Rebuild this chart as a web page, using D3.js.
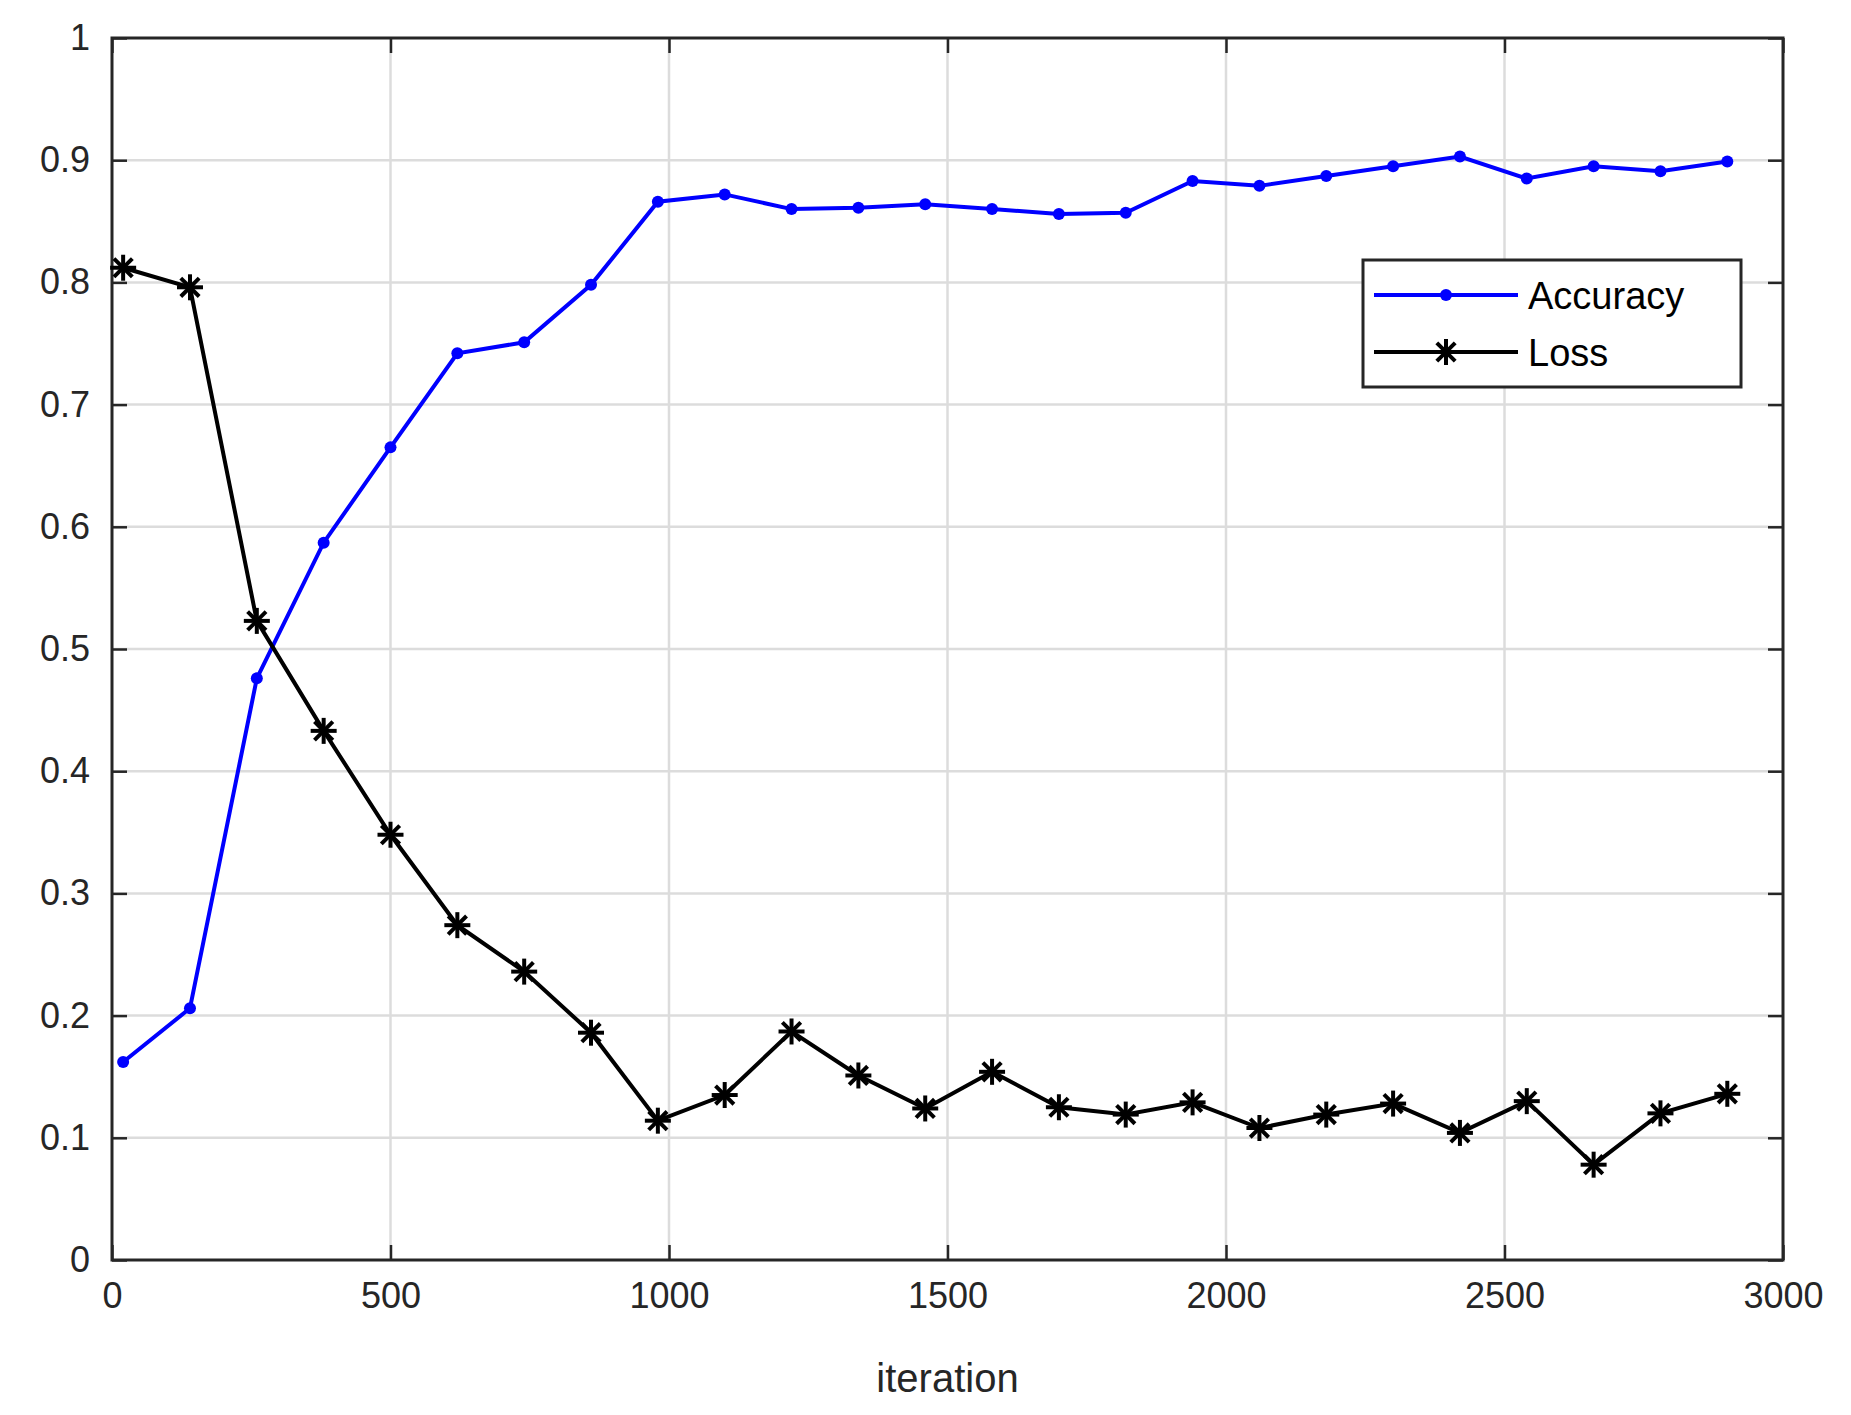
<!DOCTYPE html>
<html><head><meta charset="utf-8">
<script src="https://cdn.jsdelivr.net/npm/d3@7"></script>
<style>body{margin:0;background:#fff}</style>
</head><body>
<div id="chart"></div>
<script>
const iterations = d3.range(25).map(i => 20 + 120 * i)
const accuracy = [0.162,0.206,0.476,0.587,0.665,0.742,0.751,0.798,0.866,0.872,0.860,0.861,0.864,0.860,0.856,0.857,0.883,0.879,0.887,0.895,0.903,0.885,0.895,0.891,0.899]
const loss = [0.812,0.796,0.523,0.433,0.348,0.274,0.236,0.186,0.114,0.135,0.187,0.151,0.124,0.154,0.125,0.119,0.129,0.108,0.119,0.128,0.104,0.130,0.078,0.120,0.136]
const xTicks = [0,500,1000,1500,2000,2500,3000]
const yTicks = [0,0.1,0.2,0.3,0.4,0.5,0.6,0.7,0.8,0.9,1]

const width = 1851, height = 1415
const plotL = 112, plotR = 1783, plotT = 38, plotB = 1260
const axisColor = '#262626'
const font = '"Liberation Sans", Arial, sans-serif'

const svg = d3.select('#chart').append('svg').attr('width', width).attr('height', height)
  .style('font-family', font)

const x = d3.scaleLinear().domain([0, 3000]).range([plotL, plotR])
const y = d3.scaleLinear().domain([0, 1]).range([plotB, plotT])

// grid
svg.append('g').selectAll('line').data(xTicks.slice(1, -1)).join('line')
  .attr('x1', d => x(d)).attr('x2', d => x(d)).attr('y1', plotT).attr('y2', plotB)
  .attr('stroke', '#dcdcdc').attr('stroke-width', 2.5)
svg.append('g').selectAll('line').data(yTicks.slice(1, -1)).join('line')
  .attr('y1', d => y(d)).attr('y2', d => y(d)).attr('x1', plotL).attr('x2', plotR)
  .attr('stroke', '#dcdcdc').attr('stroke-width', 2.5)

// axes
const styleAxis = g => {
  g.select('.domain').remove()
  g.selectAll('.tick line').attr('stroke', axisColor).attr('stroke-width', 2.5)
  g.selectAll('.tick text').attr('fill', axisColor).style('font-size', '36px').style('font-family', font)
}
svg.append('g').attr('transform', `translate(0,${plotB})`)
  .call(d3.axisBottom(x).tickValues(xTicks).tickSize(-15).tickPadding(22).tickFormat(d3.format('d')))
  .call(styleAxis)
svg.append('g').attr('transform', `translate(${plotL},0)`)
  .call(d3.axisLeft(y).tickValues(yTicks).tickSize(-15).tickPadding(22).tickFormat(d => d === 0 || d === 1 ? d : d3.format('.1f')(d)))
  .call(styleAxis)
svg.append('g').attr('transform', `translate(0,${plotT})`)
  .call(d3.axisTop(x).tickValues(xTicks).tickSize(-15).tickFormat(''))
  .call(styleAxis)
svg.append('g').attr('transform', `translate(${plotR},0)`)
  .call(d3.axisRight(y).tickValues(yTicks).tickSize(-15).tickFormat(''))
  .call(styleAxis)
svg.append('rect').attr('x', plotL).attr('y', plotT).attr('width', plotR - plotL).attr('height', plotB - plotT)
  .attr('fill', 'none').attr('stroke', axisColor).attr('stroke-width', 3)

svg.append('text').attr('x', (plotL + plotR) / 2).attr('y', 1392).attr('text-anchor', 'middle')
  .attr('fill', axisColor).style('font-size', '40px').text('iteration')

// series
const line = d3.line().x(d => x(d[0])).y(d => y(d[1]))
const accPts = iterations.map((it, i) => [it, accuracy[i]])
const lossPts = iterations.map((it, i) => [it, loss[i]])
svg.append('path').datum(accPts).attr('d', line).attr('fill', 'none').attr('stroke', '#0000ff').attr('stroke-width', 4)
svg.append('g').selectAll('circle').data(accPts).join('circle')
  .attr('cx', d => x(d[0])).attr('cy', d => y(d[1])).attr('r', 6).attr('fill', '#0000ff')
svg.append('path').datum(lossPts).attr('d', line).attr('fill', 'none').attr('stroke', '#000').attr('stroke-width', 4)

const star = (g, cx, cy, r) => {
  const s = g.append('g').attr('transform', `translate(${cx},${cy})`)
  for (const a of [0, 45, 90, 135]) {
    const t = a * Math.PI / 180
    s.append('line').attr('x1', -r * Math.cos(t)).attr('y1', -r * Math.sin(t))
      .attr('x2', r * Math.cos(t)).attr('y2', r * Math.sin(t))
      .attr('stroke', '#000').attr('stroke-width', 4)
  }
}
const starG = svg.append('g')
lossPts.forEach(d => star(starG, x(d[0]), y(d[1]), 13))

// legend
const lg = svg.append('g')
lg.append('rect').attr('x', 1363).attr('y', 260).attr('width', 378).attr('height', 127)
  .attr('fill', '#fff').attr('stroke', axisColor).attr('stroke-width', 3)
lg.append('line').attr('x1', 1374).attr('x2', 1518).attr('y1', 295).attr('y2', 295).attr('stroke', '#0000ff').attr('stroke-width', 4)
lg.append('circle').attr('cx', 1446).attr('cy', 295).attr('r', 6).attr('fill', '#0000ff')
lg.append('line').attr('x1', 1374).attr('x2', 1518).attr('y1', 352).attr('y2', 352).attr('stroke', '#000').attr('stroke-width', 4)
star(lg, 1446, 352, 13)
lg.append('text').attr('x', 1528).attr('y', 309).style('font-size', '38px').text('Accuracy')
lg.append('text').attr('x', 1528).attr('y', 366).style('font-size', '38px').text('Loss')
</script>
</body></html>
